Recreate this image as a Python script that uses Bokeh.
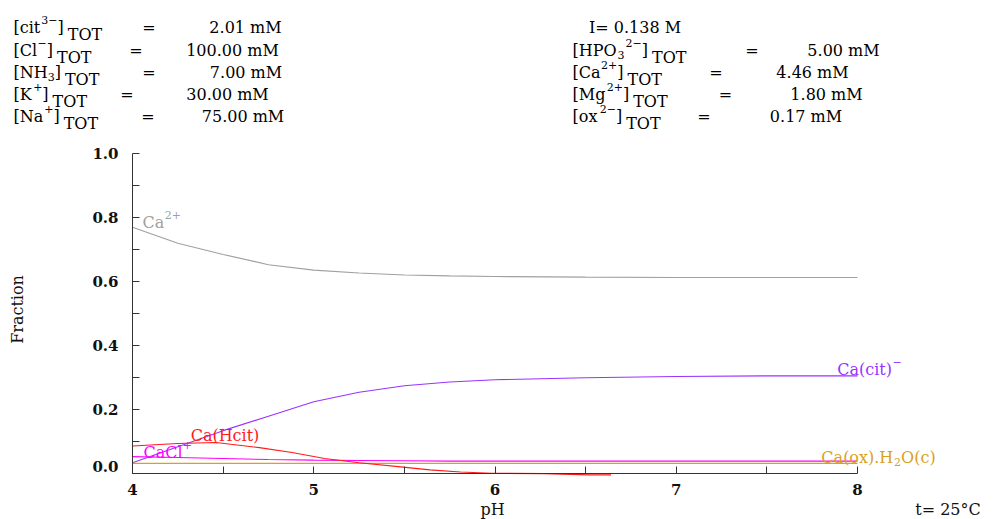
from bokeh.plotting import figure
from bokeh.models import Label, FixedTicker, PrintfTickFormatter, Range1d
from bokeh.embed import file_html
from bokeh.resources import INLINE

# ---------------- data ----------------
ph = [4.0, 4.25, 4.5, 4.75, 5.0, 5.25, 5.5, 5.75, 6.0, 6.5, 7.0, 7.5, 8.0]
ca2 = [0.770, 0.720, 0.685, 0.653, 0.636, 0.627, 0.621, 0.618, 0.616, 0.614, 0.613, 0.613, 0.613]
ca_cit = [0.035, 0.085, 0.135, 0.180, 0.225, 0.255, 0.275, 0.287, 0.294, 0.300, 0.304, 0.306, 0.306]
ca_cl = [0.054, 0.051, 0.048, 0.045, 0.043, 0.042, 0.041, 0.040, 0.040, 0.040, 0.040, 0.040, 0.040]
ca_ox = [0.033, 0.033, 0.033, 0.033, 0.033, 0.033, 0.033, 0.033, 0.033, 0.033, 0.033, 0.033, 0.033]
ph_hcit = [4.0, 4.25, 4.46, 4.7, 4.88, 5.06, 5.25, 5.48, 5.64, 5.81, 5.98, 6.27, 6.52, 6.64]
ca_hcit = [0.087, 0.095, 0.098, 0.082, 0.067, 0.048, 0.035, 0.022, 0.0125, 0.006, 0.002, 0.001, -0.003, -0.003]

x_ticks = [4, 5, 6, 7, 8]
x_minor = [4.5, 5.5, 6.5, 7.5]
y_ticks = [0.0, 0.2, 0.4, 0.6, 0.8, 1.0]
y_minor = [0.1, 0.3, 0.5, 0.7, 0.9]

# header: (name, charge superscript, number subscript inside name, value text)
left_species = [("[cit", "3−", "", "2.01 mM"), ("[Cl", "−", "", "100.00 mM"),
                ("[NH", "", "3", "7.00 mM"), ("[K", "+", "", "30.00 mM"),
                ("[Na", "+", "", "75.00 mM")]
right_species = [("[HPO", "2−", "3", "5.00 mM"), ("[Ca", "2+", "", "4.46 mM"),
                 ("[Mg", "2+", "", "1.80 mM"), ("[ox", "2−", "", "0.17 mM")]
ionic_strength = "I= 0.138 M"
temperature = "t= 25°C"

FONT = "DejaVu Serif"
C_GRAY = "#a0a0a0"
C_PURPLE = "#9933ff"
C_RED = "#ff1a1a"
C_MAG = "#ff00ff"
C_GOLD = "#d9a21b"
C_AX = "#333333"
C_TXT = "#111111"

W, H = 996, 519
PX_PER_X = 181.25
PX_PER_Y = 320.4
X0_PX, Y0_PX = 132, 473.4

def dx(px):
    return 4 + (px - X0_PX) / PX_PER_X

def dy(py):
    return (Y0_PX - py) / PX_PER_Y

p = figure(width=W, height=H, output_backend="svg", toolbar_location=None,
           x_range=Range1d(dx(0), dx(W)), y_range=Range1d(dy(H), dy(0)),
           min_border=0)
p.outline_line_color = None
p.grid.visible = False
p.background_fill_color = "white"

for ax in (p.xaxis[0], p.yaxis[0]):
    ax.axis_line_color = C_AX
    ax.major_tick_line_color = C_AX
    ax.minor_tick_line_color = C_AX
    ax.major_tick_in = 7
    ax.major_tick_out = 0
    ax.minor_tick_in = 7
    ax.minor_tick_out = 0
    ax.major_label_text_font = FONT
    ax.major_label_text_font_size = "15px"
    ax.major_label_text_font_style = "bold"
    ax.major_label_text_color = C_TXT

xa = p.xaxis[0]
xa.ticker = FixedTicker(ticks=x_ticks, minor_ticks=x_minor)
xa.formatter = PrintfTickFormatter(format="%d")
xa.major_label_standoff = 10
xa.fixed_location = 0
xa.bounds = (x_ticks[0], x_ticks[-1])

ya = p.yaxis[0]
ya.ticker = FixedTicker(ticks=y_ticks, minor_ticks=y_minor)
ya.formatter = PrintfTickFormatter(format="%.1f")
ya.major_label_standoff = 14
ya.major_label_overrides = {0: ""}
ya.fixed_location = x_ticks[0]
ya.bounds = (y_ticks[0], y_ticks[-1])

LW = 1.1
p.line(ph, ca2, line_color=C_GRAY, line_width=LW)
p.line(ph, ca_cit, line_color=C_PURPLE, line_width=LW)
p.line(ph, ca_cl, line_color=C_MAG, line_width=LW)
p.line(ph, ca_ox, line_color=C_GOLD, line_width=LW)
p.line(ph_hcit, ca_hcit, line_color=C_RED, line_width=LW)

# approximate DejaVu Serif advance widths (em) for laying out composite texts
CW = {'[': .390, ']': .390, '(': .390, ')': .390, 'c': .560, 'i': .320, 't': .402,
      'C': .734, 'l': .320, 'N': .872, 'H': .872, 'K': .775, 'a': .596, 'T': .734,
      'O': .820, 'P': .733, 'M': 1.045, 'g': .640, 'o': .602, 'x': .645, '=': .838,
      '.': .318, ' ': .318, 'm': .948, '+': .838, '−': .838, 'I': .472, 'p': .640}

def tw(text, size):
    return sum(CW.get(ch, .636) for ch in text) * size

def put(px, py, text, size=16, color="#000000", align="left", baseline="alphabetic",
        style="normal", angle=0):
    p.add_layout(Label(x=dx(px), y=dy(py), text=text, text_font=FONT,
                       text_font_size=f"{size}px", text_color=color, text_align=align,
                       text_baseline=baseline, text_font_style=style, angle=angle))

# piece kinds: (font size, vertical offset, gap before)
KIND = {"n": (16, 0, 0), "sup": (11, -8, 1), "sub": (16, 7, 4), "subn": (11, 4, 0)}

def run(x, y, pieces, color, center=False):
    specs = [(t, *KIND[k]) for t, k in pieces if t]
    total = sum(tw(t, s) + g for t, s, _, g in specs)
    if center:
        x = x - total / 2
    for t, s, off, g in specs:
        x += g
        put(x, y + off, t, s, color)
        x += tw(t, s)

# replacement "0.0" tick label (raised as in the reference)
put(118, 466, "0.0", size=15, color=C_TXT, align="right", baseline="middle", style="bold")

# header columns
left_y = [27, 50, 72, 94, 116]
left_eq = [148.5, 135.5, 148.5, 126.5, 147.5]
left_val = [245, 232, 245.5, 227, 242.5]
for (nm, sup, subn, val), y, xe, xv in zip(left_species, left_y, left_eq, left_val):
    run(13, y, [(nm, "n"), (subn, "subn"), (sup, "sup"), ("]", "n"), ("TOT", "sub")], "#000000")
    put(xe, y, "=", 16, "#000000", align="center")
    put(xv, y, val, 16, "#000000", align="center")

put(634.5, 27, ionic_strength, 16, "#000000", align="center")
right_y = [50, 72, 94, 116]
right_eq = [751.5, 715.5, 725, 703.5]
right_val = [843, 812, 826, 805.5]
for (nm, sup, subn, val), y, xe, xv in zip(right_species, right_y, right_eq, right_val):
    run(572, y, [(nm, "n"), (subn, "subn"), (sup, "sup"), ("]", "n"), ("TOT", "sub")], "#000000")
    put(xe, y, "=", 16, "#000000", align="center")
    put(xv, y, val, 16, "#000000", align="center")

# species labels
run(142, 222, [("Ca", "n"), ("2+", "sup")], C_GRAY)
run(869, 369, [("Ca(cit)", "n"), ("−", "sup")], C_PURPLE, center=True)
put(224.5, 435, "Ca(Hcit)", 16, C_RED, align="center")
run(143, 452, [("CaCl", "n"), ("+", "sup")], C_MAG)
run(878, 457, [("Ca(ox).H", "n"), ("2", "subn"), ("O(c)", "n")], C_GOLD, center=True)

# axis titles and temperature
put(17, 309, "Fraction", 16, C_TXT, align="center", baseline="middle", angle=1.5707963)
put(492, 509, "pH", 16, C_TXT, align="center")
put(947.5, 509, temperature, 16, C_TXT, align="center")

open("out.html", "w").write(file_html(p, INLINE))
